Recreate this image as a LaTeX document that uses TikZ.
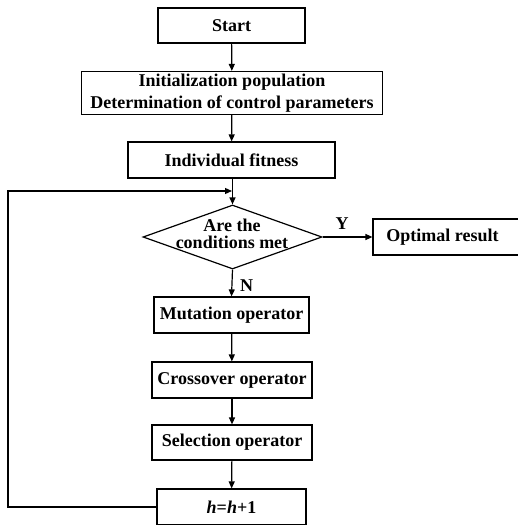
\documentclass[tikz,border=0pt]{standalone}
\usepackage{fontspec}
\setmainfont{Liberation Serif}
\usetikzlibrary{arrows.meta,shapes.geometric}
\begin{document}
\begin{tikzpicture}[x=1pt,y=-1pt,
  box/.style={draw,line width=1.2pt,inner sep=0pt,font=\fontsize{18}{21.5}\selectfont\bfseries,align=center},
  conn/.style={line width=1.2pt,-{Triangle[length=7pt,width=6pt]}},
  lbl/.style={font=\fontsize{18}{17}\selectfont\bfseries,inner sep=0pt}]
\useasboundingbox (0,0) rectangle (518,525);
\node[box,minimum width=147pt,minimum height=35pt] (start) at (231.5,25.5) {Start};
\node[box,minimum width=301pt,minimum height=43pt] (init) at (232,93) {Initialization population\\Determination of control parameters};
\node[box,minimum width=207pt,minimum height=36pt] (fit) at (231.5,160) {Individual fitness};
\node[draw,line width=1.2pt,diamond,inner sep=0pt,minimum width=179pt,minimum height=64pt] (cond) at (232.5,237) {};
\node[lbl,align=center] (condtext) at (232,233.5) {Are the\\conditions met};
\node[box,minimum width=146pt,minimum height=36pt] (opt) at (446,237) {\hspace*{-7pt}Optimal result};
\node[box,minimum width=155pt,minimum height=36pt] (mut) at (231.5,315) {Mutation operator};
\node[box,minimum width=160pt,minimum height=36pt] (cross) at (232,380) {Crossover operator};
\node[box,minimum width=160pt,minimum height=35pt] (sel) at (232,442.5) {Selection operator};
\node[box,minimum width=149pt,minimum height=36pt] (hbox) at (231.5,507) {\textit{h}=\textit{h}+1};
\coordinate (loopA) at (8,507);
\coordinate (loopB) at (8,191);
\coordinate (loopC) at (232,191);
\draw[conn] (start) -- (init);
\draw[conn] (init) -- (fit);
\draw[conn] (fit.south -| cond.north) -- (cond.north);
\draw[conn] (cond.east) -- (opt.west);
\draw[conn] (cond.south) -- (mut.north);
\draw[conn] (mut) -- (cross);
\draw[conn] (cross) -- (sel);
\draw[conn] (sel) -- (hbox);
\draw[conn] (hbox.west) -- (loopA) -- (loopB) -- (loopC);
\node[lbl] (ylab) at (342,224) {Y};
\node[lbl] (nlab) at (246.5,286) {N};
\end{tikzpicture}
\end{document}
